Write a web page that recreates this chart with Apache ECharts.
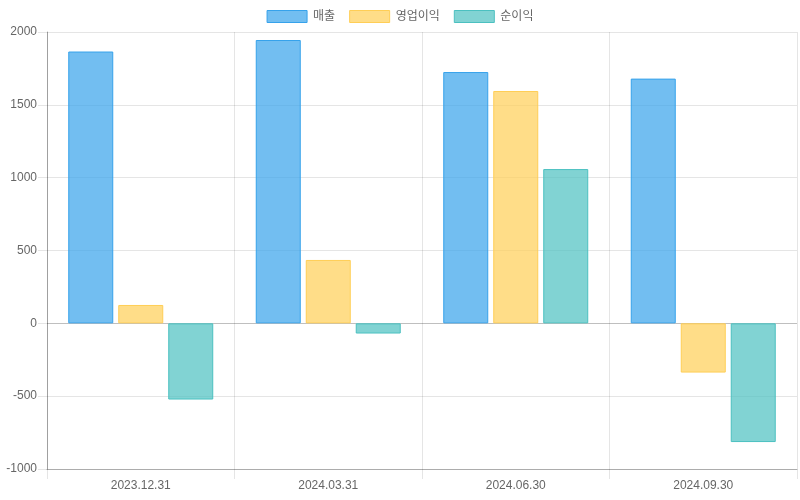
<!DOCTYPE html>
<html>
<head>
<meta charset="utf-8">
<script src="https://cdn.jsdelivr.net/npm/echarts@6/dist/echarts.min.js"></script>
<style>html,body{margin:0;padding:0;background:#fff}#c{width:800px;height:500px}</style>
</head>
<body>
<div id="c"></div>
<script>
const categories = ['2023.12.31', '2024.03.31', '2024.06.30', '2024.09.30'];
const seriesNames = ['매출', '영업이익', '순이익'];
const sales = [1866, 1945, 1725, 1680];
const operatingProfit = [126, 435, 1595, -338];
const netProfit = [-523, -70, 1059, -815];
const yTicks = { min: -1000, max: 2000, interval: 500 };

const font = '"Liberation Sans", Arial, "Noto Sans CJK KR", sans-serif';
const colors = [
  { fill: 'rgba(54,162,235,0.7)', border: 'rgb(54,162,235)' },
  { fill: 'rgba(255,206,86,0.7)', border: 'rgb(255,206,86)' },
  { fill: 'rgba(75,192,192,0.7)', border: 'rgb(75,192,192)' }
];
const allData = [sales, operatingProfit, netProfit];

const nLines = (yTicks.max - yTicks.min) / yTicks.interval + 1;
const splitColors = [];
for (let i = 0; i < nLines; i++) {
  const v = yTicks.min + i * yTicks.interval;
  splitColors.push(v === 0 ? 'rgba(0,0,0,0.25)' : 'rgba(0,0,0,0.1)');
}

const chart = echarts.init(document.getElementById('c'), null, { renderer: 'canvas' });
chart.setOption({
  animation: false,
  textStyle: { fontFamily: font },
  legend: {
    top: 5,
    left: 'center',
    itemWidth: 40,
    itemHeight: 12,
    itemGap: 14,
    icon: 'rect',
    itemStyle: { borderWidth: 1 },
    textStyle: { color: '#666', fontSize: 12, fontFamily: font, padding: [0, 0, 0, 1] }
  },
  grid: { left: 47, right: 3, top: 32, bottom: 31, containLabel: false },
  xAxis: {
    type: 'category',
    data: categories,
    axisLine: { show: true, onZero: false, lineStyle: { color: 'rgba(0,0,0,0.25)', width: 1 } },
    axisTick: { show: true, length: 10, lineStyle: { color: 'rgba(0,0,0,0.1)' } },
    axisLabel: { color: '#666', fontSize: 12, margin: 11, fontFamily: font },
    splitLine: { show: true, lineStyle: { color: 'rgba(0,0,0,0.1)', width: 1 } }
  },
  yAxis: {
    type: 'value',
    min: yTicks.min,
    max: yTicks.max,
    interval: yTicks.interval,
    axisLine: { show: true, lineStyle: { color: 'rgba(0,0,0,0.3)', width: 1 } },
    axisTick: { show: true, length: 9, lineStyle: { color: 'rgba(0,0,0,0.1)' } },
    axisLabel: { color: '#666', fontSize: 12, margin: 10, fontFamily: font, formatter: v => String(v) },
    splitLine: { show: true, lineStyle: { color: splitColors, width: 1 } }
  },
  series: seriesNames.map((name, i) => ({
    name: name,
    type: 'bar',
    data: allData[i],
    barWidth: 45,
    barGap: '11.11%',
    itemStyle: { color: colors[i].fill, borderColor: colors[i].border, borderWidth: 1 },
    emphasis: { disabled: true }
  }))
});
</script>
</body>
</html>
